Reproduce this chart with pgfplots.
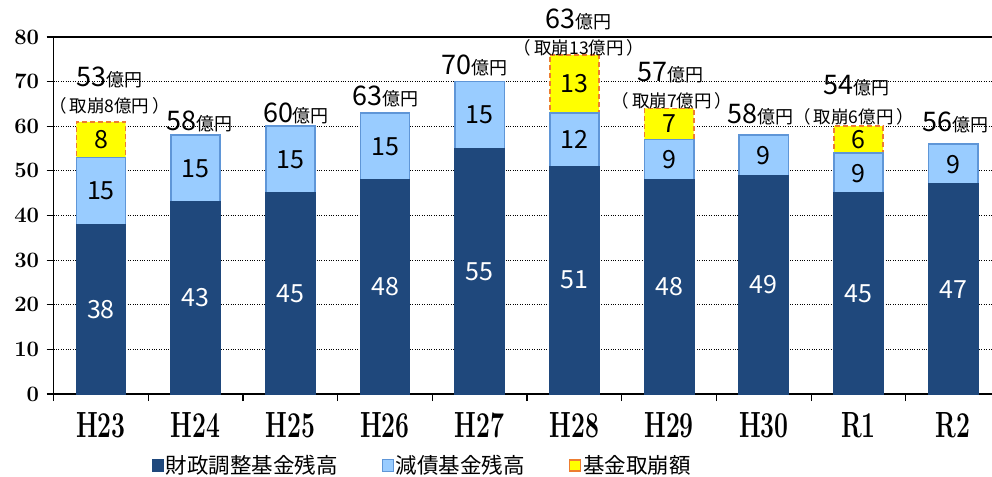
\documentclass[border=0pt]{standalone}
\usepackage{fontspec}
\usepackage{graphicx}
\usepackage{pgfplots}
\usepackage{pgfplotstable}
\pgfplotsset{compat=1.18}
\newfontfamily\jp{Noto Sans CJK JP}
\definecolor{navy}{RGB}{31,72,124}
\definecolor{lblue}{RGB}{153,204,255}
\definecolor{lbluedraw}{RGB}{95,150,215}
\definecolor{ylw}{RGB}{255,255,0}
\definecolor{org}{RGB}{237,125,49}
\DeclareRobustCommand\totlab[1]{{\jp\fontsize{27bp}{27bp}\selectfont #1}{\jp\fontsize{18bp}{18bp}\selectfont 億円}}
\DeclareRobustCommand\wdlab[1]{{\jp\fontsize{17.5bp}{17.5bp}\selectfont （\hspace{3bp}取崩#1億円\hspace{3bp}）}}
\DeclareRobustCommand\xl[1]{\scalebox{0.95}[1.4]{#1}}
\DeclareRobustCommand\yl[1]{{\fontsize{22bp}{22bp}\selectfont\bfseries #1}}
\pgfplotsset{sqleg/.style={legend image code/.code={\draw[##1] (0bp,-5.5bp) rectangle (11bp,5.5bp);}}}
% x  fin = 財政調整基金残高, debt = 減債基金残高
\pgfplotstableread{
x fin debt
0 38 15
1 43 15
2 45 15
3 48 15
4 55 15
5 51 12
6 48 9
7 49 9
8 45 9
9 47 9
}\funds
% withdrawals (基金取崩額), only where present
\pgfplotstableread{
x fin debt wd
0 38 15 8
5 51 12 13
6 48 9 7
8 45 9 6
}\withdraw
\begin{document}
\begin{tikzpicture}
\begin{axis}[
  at={(53.6bp,83bp)}, anchor=south west,
  scale only axis, width=938.4bp, height=357bp,
  xmin=-0.5, xmax=9.41, ymin=0, ymax=80,
  clip=false,
  axis x line*=bottom, axis y line*=left,
  axis line style={line width=1.2bp, black},
  xtick={0,...,9},
  xticklabels={\xl{H23},\xl{H24},\xl{H25},\xl{H26},\xl{H27},\xl{H28},\xl{H29},\xl{H30},\xl{R1},\xl{R2}},
  xticklabel style={font=\fontsize{26bp}{26bp}\selectfont\bfseries, yshift=-8bp},
  minor xtick={-0.5,0.5,...,8.5},
  major x tick style={draw=none},
  minor x tick style={line width=1.2bp,black},
  ytick={0,10,...,80},
  yticklabels={\yl{0},\yl{10},\yl{20},\yl{30},\yl{40},\yl{50},\yl{60},\yl{70},\yl{80}},
  yticklabel style={xshift=-4bp},
  y tick style={line width=1.2bp,black},
  ymajorgrids, grid style={dotted, line width=0.9bp, black},
  tick align=outside,
  major tick length=7bp, minor tick length=7bp,
  legend style={at={(0.393,-0.2)}, anchor=center, draw=none, fill=none,
    legend columns=3, font=\jp\fontsize{21.5bp}{21.5bp}\selectfont,
    /tikz/every even column/.append style={column sep=42bp},
    nodes={inner sep=2bp}},
  bar/.style={ybar, bar width=0.52, bar shift=0pt, forget plot},
  lab/.style={sharp plot, draw=none, mark=none, forget plot, nodes near coords,
    point meta=explicit symbolic},
]
% withdrawal segment on top of the two funds (drawn first, covered below)
\addplot[bar, fill=ylw, draw=org, line width=1.6bp, dash pattern=on 5bp off 3bp]
  table[x=x, y expr=\thisrow{fin}+\thisrow{debt}+\thisrow{wd}] {\withdraw};
% debt reduction fund segment on top of fiscal adjustment fund
\addplot[bar, fill=lblue, draw=lbluedraw, line width=1.6bp]
  table[x=x, y expr=\thisrow{fin}+\thisrow{debt}] {\funds};
% fiscal adjustment fund
\addplot[bar, fill=navy, draw=navy, line width=1.6bp]
  table[x=x, y=fin] {\funds};
% labels inside bars
\addplot[lab, every node near coord/.style={anchor=center, text=white, font=\jp\fontsize{25bp}{25bp}\selectfont}]
  coordinates {(0,19)[38] (1,21.5)[43] (2,22.5)[45] (3,24)[48] (4,27.5)[55] (5,25.5)[51] (6,24)[48] (7,24.5)[49] (8,22.5)[45] (9,23.5)[47]};
\addplot[lab, every node near coord/.style={anchor=center, text=black, font=\jp\fontsize{25bp}{25bp}\selectfont}]
  coordinates {(0,45.5)[15] (1,50.5)[15] (2,52.5)[15] (3,55.5)[15] (4,62.5)[15] (5,57)[12] (6,52.5)[9] (7,53.5)[9] (8,49.5)[9] (9,51.5)[9]};
\addplot[lab, every node near coord/.style={anchor=center, text=black, font=\jp\fontsize{25bp}{25bp}\selectfont}]
  coordinates {(0,57)[8] (5,69.5)[13] (6,60.5)[7] (8,57)[6]};
% totals
\addplot[lab, nodes near coords={\totlab{\pgfplotspointmeta}},
  every node near coord/.style={anchor=center, text=black}]
  coordinates {(0.09,71.0)[53] (1.04,61.1)[58] (2.06,62.9)[60] (3,66.7)[63] (3.95,73.7)[70] (5.04,84.0)[63] (6.01,72.0)[57] (6.97,62.7)[58] (7.98,69.0)[54] (9.02,60.8)[56]};
% withdrawal notes
\addplot[lab, nodes near coords={\wdlab{\pgfplotspointmeta}},
  every node near coord/.style={anchor=center, text=black}]
  coordinates {(0.09,64.6)[8] (5.05,77.6)[13] (6.03,65.8)[7] (7.95,62.0)[6]};
\draw[line width=1.2bp] (rel axis cs:0,1) -- (rel axis cs:1,1);
\addlegendimage{sqleg, fill=navy, draw=navy, line width=0.8bp, solid}
\addlegendentry{財政調整基金残高}
\addlegendimage{sqleg, fill=lblue, draw=lbluedraw, line width=0.8bp, solid}
\addlegendentry{減債基金残高}
\addlegendimage{sqleg, fill=ylw, draw=org, line width=1.6bp, solid}
\addlegendentry{基金取崩額}
\end{axis}
\pgfresetboundingbox
\useasboundingbox (0,0) rectangle (992bp,477bp);
\end{tikzpicture}
\end{document}
